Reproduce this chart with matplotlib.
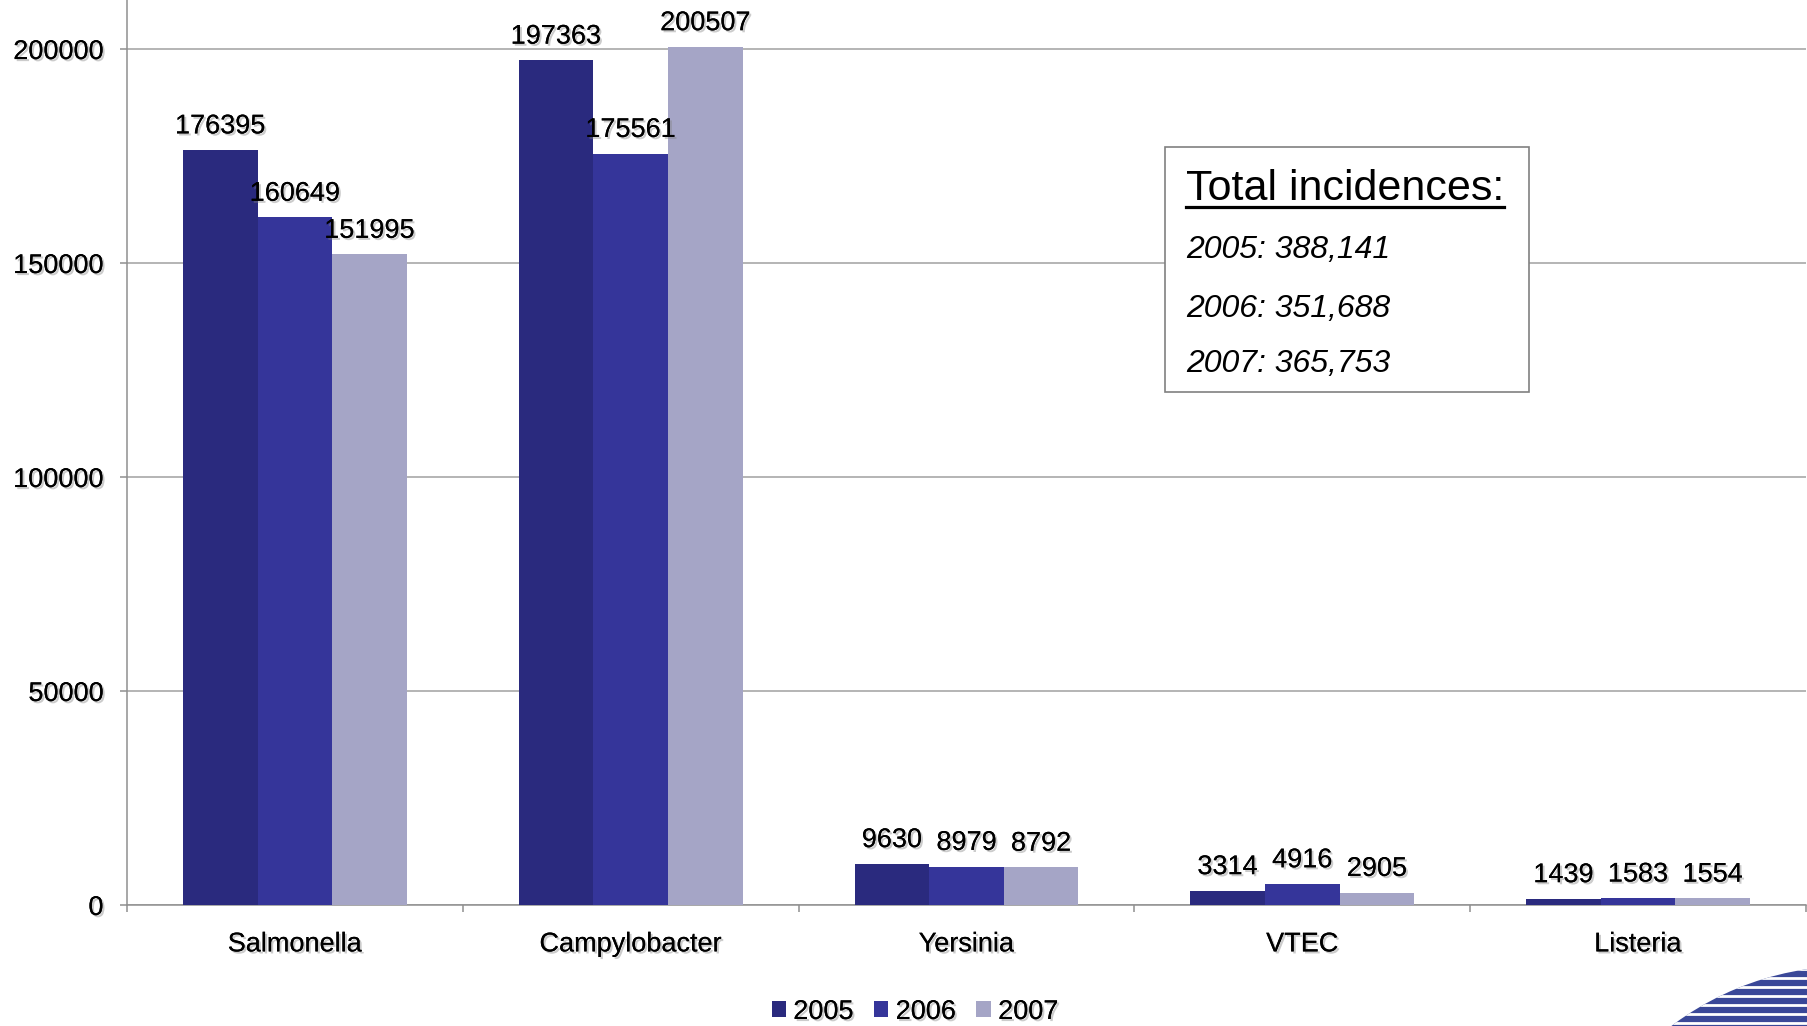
import numpy as np
import matplotlib
matplotlib.use("Agg")
import matplotlib.pyplot as plt
import matplotlib.patheffects as pe
from matplotlib.patches import Rectangle, Circle, Patch
from matplotlib.lines import Line2D

plt.rcParams['font.family'] = ['Liberation Sans', 'DejaVu Sans']

# data
pathogens = ["Salmonella", "Campylobacter", "Yersinia", "VTEC", "Listeria"]
years = ["2005", "2006", "2007"]
cases_2005 = [176395, 197363, 9630, 3314, 1439]
cases_2006 = [160649, 175561, 8979, 4916, 1583]
cases_2007 = [151995, 200507, 8792, 2905, 1554]
yticks = [0, 50000, 100000, 150000, 200000]

colors = ["#2a2a7e", "#35359a", "#a5a5c6"]
shadow = [pe.withSimplePatchShadow(offset=(1.5, -1.5), shadow_rgbFace="gray", alpha=0.4), pe.Normal()]

W, H = 1808, 1026
fig = plt.figure(figsize=(W / 100, H / 100), dpi=100)
ax = fig.add_axes([127 / W, 1 - 905 / H, (1806 - 127) / W, 905 / H])

x = np.arange(len(pathogens))
bw = 0.222
series = [cases_2005, cases_2006, cases_2007]
for i, vals in enumerate(series):
    pos = x + (i - 1) * bw
    ax.bar(pos, vals, width=bw, color=colors[i], zorder=3)
    for px, v in zip(pos, vals):
        ax.annotate(str(v), (px, v), xytext=(0, 12), textcoords="offset points",
                    ha="center", va="baseline", fontsize=19.5, path_effects=shadow, zorder=4)

ax.set_xlim(-0.5, len(pathogens) - 0.5)
ax.set_ylim(0, 211460)
ax.set_yticks(yticks)
ax.set_yticklabels([str(t) for t in yticks])
ax.yaxis.grid(True, color="#a0a0a0", linewidth=1.1, zorder=0)
ax.set_axisbelow(True)

ax.set_xticks(np.arange(len(pathogens) + 1) - 0.5)
ax.set_xticklabels([])
ax.set_xticks(x, minor=True)
ax.set_xticklabels(pathogens, minor=True)
ax.tick_params(axis="x", which="minor", length=0, pad=19, labelsize=19.5)
ax.tick_params(axis="x", which="major", length=5, color="#909090", width=1.1)
ax.tick_params(axis="y", length=5, color="#909090", width=1.1, pad=12, labelsize=19.5)
for lab in ax.get_yticklabels() + ax.get_xticklabels(minor=True):
    lab.set_path_effects(shadow)

for s in ["top", "right"]:
    ax.spines[s].set_visible(False)
for s in ["left", "bottom"]:
    ax.spines[s].set_color("#909090")
    ax.spines[s].set_linewidth(1.1)

# legend
handles = [Patch(facecolor=c, edgecolor="none") for c in colors]
leg = fig.legend(handles, years, loc="center", bbox_to_anchor=(915 / W, 1 - 1012 / H), ncol=3,
                 frameon=False, fontsize=19.5, handlelength=0.53, handleheight=0.53,
                 handletextpad=0.27, columnspacing=0.76)
for t in leg.get_texts():
    t.set_path_effects(shadow)

# totals box
fig.add_artist(Rectangle((1165 / W, 1 - 392 / H), (1529 - 1165) / W, (392 - 147) / H,
                         transform=fig.transFigure, facecolor="white", edgecolor="#808080",
                         linewidth=1.2, zorder=5))
title = fig.text(1186 / W, 1 - 200 / H, "Total incidences:", fontsize=31, va="baseline", zorder=6)
for yr, vals, base in zip(years, series, [258, 317, 372]):
    fig.text(1186 / W, 1 - base / H, f"{yr}: {sum(vals):,}", fontsize=23, style="italic",
             va="baseline", zorder=6)

# underline the box title to its own width
fig.canvas.draw()
bb = title.get_window_extent()
fig.add_artist(Line2D([bb.x0 / W, bb.x1 / W], [1 - 207 / H, 1 - 207 / H], color="black",
                      linewidth=2.3, transform=fig.transFigure, zorder=6))

# logo fragment bottom right
ov = fig.add_axes([0, 0, 1, 1], zorder=-1)
ov.set_xlim(0, W)
ov.set_ylim(H, 0)
ov.axis("off")
circ = Circle((1850, 1262), 296, facecolor="#3a4898", edgecolor="none")
ov.add_patch(circ)
for yy in np.arange(960, 1030, 9):
    ln = ov.plot([1600, W], [yy, yy], color="white", linewidth=2)[0]
    ln.set_clip_path(circ)

fig.savefig("out.png", dpi=100)
